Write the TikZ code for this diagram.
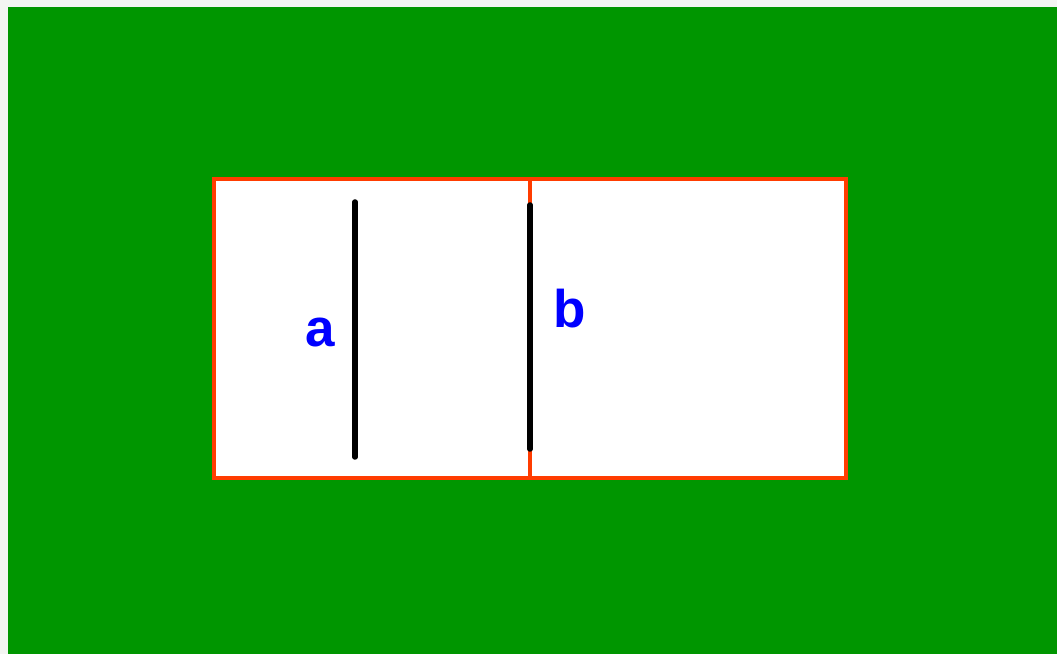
\documentclass[tikz,border=0pt]{standalone}
\usepackage{fontspec}
\setmainfont{Liberation Sans}
\usepackage{tikz}
\usetikzlibrary{positioning}
\definecolor{fieldgreen}{RGB}{0,150,0}
\definecolor{edgered}{RGB}{255,60,0}
\definecolor{labelblue}{RGB}{0,0,255}
\definecolor{paper}{RGB}{243,245,242}

\begin{document}
\begin{tikzpicture}[
  x=1pt, y=1pt,
  cell/.style={draw=edgered, line width=4pt, fill=white, minimum width=316pt,
    minimum height=299pt, inner sep=0pt, outer sep=0pt},
  bar/.style={line width=5.5pt, line cap=round, black},
  lbl/.style={font=\fontsize{53}{60}\selectfont\bfseries, text=labelblue, anchor=base}
]
% background and margins
\fill[paper] (0,0) rectangle (1057,654);
\fill[fieldgreen] (8,0) rectangle (1057,647);
\useasboundingbox (0,0) rectangle (1057,654);
% two cells
\node[cell, anchor=south west] (left) at (214,176) {};
\node[cell, anchor=south west] (right) at (left.south east) {};
% bars
\coordinate (atop) at (355,452);
\coordinate (abot) at (355,197);
\coordinate (btop) at (530,449);
\coordinate (bbot) at (530,205);
\draw[bar] (atop) -- (abot);
\draw[bar] (btop) -- (bbot);
% labels
\node[lbl] (la) at (320,307) {a};
\node[lbl] (lb) at (570,326) {b};
\end{tikzpicture}
\end{document}
